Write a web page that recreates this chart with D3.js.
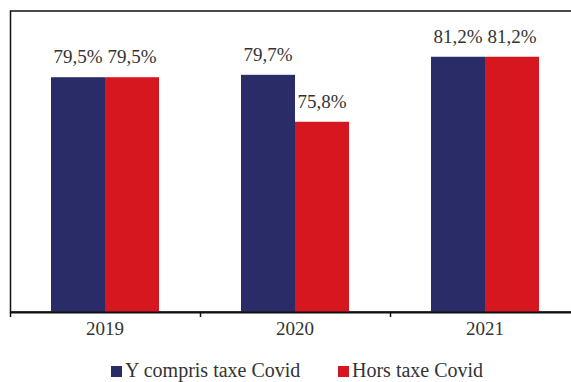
<!DOCTYPE html>
<html>
<head>
<meta charset="utf-8">
<script src="https://cdn.jsdelivr.net/npm/d3@7"></script>
<style>
  body { margin: 0; background: #fff; }
  svg { display: block; }
</style>
</head>
<body>
<script>
const years = ["2019", "2020", "2021"];
const seriesNames = ["Y compris taxe Covid", "Hors taxe Covid"];
const avecTaxe = [79.5, 79.7, 81.2];
const horsTaxe = [79.5, 75.8, 81.2];
const colors = ["#292c67", "#d6171f"];
const serif = "'Liberation Serif', 'DejaVu Serif', serif";

const w = 571;
const h = 382;

const svg = d3.select("body")
  .append("svg")
  .attr("width", w)
  .attr("height", h);

// x scales: one band per year, two bars inside
const x0 = d3.scaleBand()
  .domain(years)
  .range([10, 580]);

const x1 = d3.scaleBand()
  .domain(seriesNames)
  .range([41, 149]);

const y = d3.scaleLinear()
  .domain([60, 85])
  .range([312, 11]);

// frame (top + left, right side runs off the page)
svg.append("rect")
  .attr("x", 10.5)
  .attr("y", 11)
  .attr("width", 600)
  .attr("height", 301)
  .attr("fill", "none")
  .attr("stroke", "#111")
  .attr("stroke-width", 1.5);

const rows = years.map((yr, i) => ({
  year: yr,
  values: [avecTaxe[i], horsTaxe[i]]
}));

const group = svg.selectAll("g.year")
  .data(rows)
  .enter()
  .append("g")
  .attr("class", "year")
  .attr("transform", (d) => `translate(${x0(d.year)},0)`);

const bars = group.selectAll("g.bar")
  .data((d) => d.values.map((v, j) => ({ name: seriesNames[j], value: v, j })))
  .enter()
  .append("g")
  .attr("class", "bar");

bars.append("rect")
  .attr("x", (d) => x1(d.name))
  .attr("y", (d) => y(d.value))
  .attr("width", x1.bandwidth())
  .attr("height", (d) => y(60) - y(d.value))
  .attr("fill", (d) => colors[d.j]);

bars.append("text")
  .attr("x", (d) => x1(d.name) + x1.bandwidth() / 2)
  .attr("y", (d) => y(d.value) - 14)
  .attr("text-anchor", "middle")
  .attr("fill", "#333")
  .style("font-family", serif)
  .style("font-size", "19px")
  .text((d) => d.value.toFixed(1).replace(".", ",") + "%");

// x axis
const axis = svg.append("g")
  .attr("transform", `translate(0,${y(60)})`)
  .call(d3.axisBottom(x0).tickSize(0).tickPadding(10));

axis.select(".domain")
  .attr("stroke", "#111")
  .attr("stroke-width", 2);

axis.selectAll("text")
  .style("font-size", "19px")
  .style("font-family", serif)
  .attr("fill", "#333");

// ticks on band boundaries
axis.selectAll("line.sep")
  .data(years.map((yr) => x0(yr)).concat([x0("2021") + x0.bandwidth()]))
  .enter()
  .append("line")
  .attr("class", "sep")
  .attr("x1", (d) => d + 0.5)
  .attr("x2", (d) => d + 0.5)
  .attr("y1", 0)
  .attr("y2", 5)
  .attr("stroke", "#111")
  .attr("stroke-width", 1.5);

// legend
const legendX = [111, 338];
const legend = svg.selectAll("g.legend")
  .data(seriesNames)
  .enter()
  .append("g")
  .attr("class", "legend")
  .attr("transform", (d, i) => `translate(${legendX[i]},366)`);

legend.append("rect")
  .attr("width", 11)
  .attr("height", 11)
  .attr("fill", (d, i) => colors[i]);

legend.append("text")
  .attr("x", 14)
  .attr("y", 11)
  .attr("fill", "#333")
  .style("font-family", serif)
  .style("font-size", "20px")
  .text((d) => d);
</script>
</body>
</html>
